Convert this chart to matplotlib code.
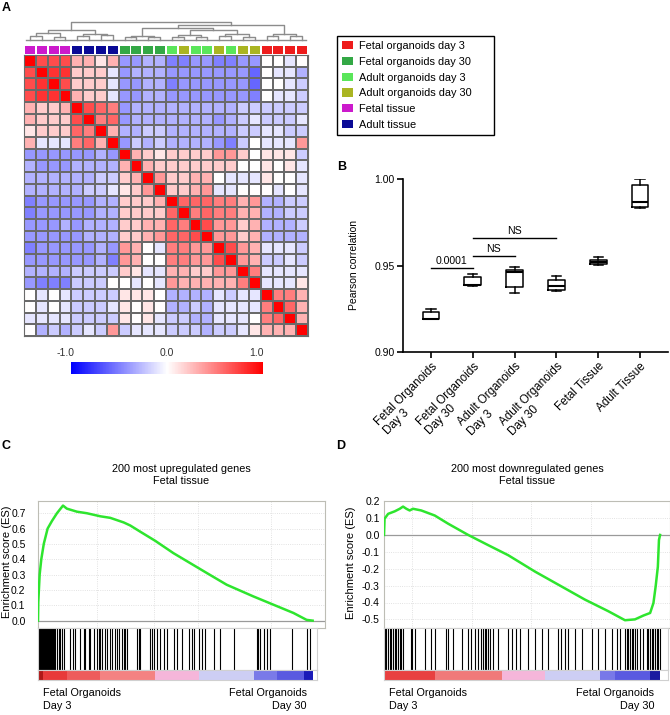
import numpy as np
import matplotlib
matplotlib.use('Agg')
import matplotlib.pyplot as plt
from matplotlib.colors import LinearSegmentedColormap
from matplotlib.patches import Patch, Rectangle

plt.rcParams['font.family'] = ['Liberation Sans', 'DejaVu Sans']

W, H = 670, 715

# ---------------- Panel A: correlation heatmap ----------------
group_keys = ['FO3', 'FO30', 'AO3', 'AO30', 'FT', 'AT']
group_labels = ['Fetal organoids day 3', 'Fetal organoids day 30', 'Adult organoids day 3',
                'Adult organoids day 30', 'Fetal tissue', 'Adult tissue']
group_colors = ['#ee1c1c', '#33a845', '#5ae65a', '#aab522', '#cc1acc', '#0a0a96']

sample_groups = (['FT'] * 4 + ['AT'] * 4 + ['FO30'] * 4 +
                 ['AO3', 'AO30', 'AO3', 'AO3', 'AO30', 'AO3', 'AO30', 'AO30'] +
                 ['FO3'] * 4)

# correlation values x10, rows/cols in displayed (clustered) order
corr_x10 = [
    [10, 7, 7, 7, 3, 3, 1, 3, -4, -4, -3, -3, -5, -5, -4, -4, -5, -5, -4, -4, 0, 0, -1, 0],
    [7, 10, 8, 8, 2, 2, 2, -1, -4, -3, -3, -3, -4, -4, -4, -4, -4, -4, -4, -6, 0, -1, -1, -3],
    [7, 8, 10, 7, 2, 2, 2, -1, -4, -4, -3, -3, -5, -4, -4, -4, -4, -4, -4, -6, 0, 0, -1, -2],
    [7, 8, 8, 10, 3, 2, 2, -1, -4, -4, -3, -3, -4, -4, -4, -4, -4, -4, -4, -5, 0, -1, -1, -2],
    [3, 2, 2, 3, 10, 7, 6, 5, -4, -3, -3, -3, -3, -3, -3, -3, -3, -3, -2, -2, -2, -2, -2, -2],
    [3, 2, 2, 2, 7, 10, 5, 6, -4, -3, -3, -3, -3, -3, -3, -3, -4, -3, -2, -1, -2, -2, -2, -1],
    [1, 2, 2, 2, 6, 5, 10, 3, -3, -3, -2, -2, -3, -3, -3, -3, -3, -3, -2, -2, -1, -1, -2, -2],
    [3, -1, -1, -1, 5, 6, 3, 10, -4, -2, -3, -2, -3, -3, -3, -3, -4, -5, -2, 0, -1, -1, -1, 4],
    [-4, -4, -4, -4, -4, -4, -3, -4, 10, 3, 2, 1, 2, 2, 2, 2, 4, 4, 2, 0, 1, 1, 1, -2],
    [-3, -4, -4, -4, -3, -3, -3, -3, 3, 10, 3, 2, 2, 2, 2, 2, 2, 2, 0, 0, 1, 0, 1, -1],
    [-3, -3, -3, -3, -3, -3, -2, -2, 2, 3, 10, 4, 2, 2, 3, 3, 0, -1, -1, -1, 1, 0, 0, -1],
    [-3, -3, -3, -3, -3, -2, -2, -1, 1, 2, 4, 10, 2, 2, 3, 4, -1, -1, 0, 0, 0, -1, 0, -1],
    [-5, -4, -4, -4, -4, -4, -3, -3, 2, 2, 2, 3, 10, 6, 6, 6, 5, 5, 3, 4, -3, -3, -2, -2],
    [-5, -4, -4, -4, -4, -4, -3, -3, 2, 2, 2, 2, 6, 10, 5, 6, 5, 5, 3, 3, -3, -3, -2, -2],
    [-4, -4, -4, -3, -4, -3, -3, -3, 2, 2, 3, 3, 6, 5, 10, 7, 4, 4, 2, 3, -3, -3, -3, -2],
    [-4, -4, -4, -4, -4, -3, -3, -3, 2, 2, 3, 4, 6, 6, 7, 10, 4, 4, 2, 3, -3, -3, -3, -3],
    [-5, -4, -4, -4, -4, -4, -3, -4, 4, 3, 0, -1, 5, 5, 4, 4, 10, 7, 4, 3, -1, -1, -1, -2],
    [-4, -4, -4, -4, -4, -4, -3, -5, 4, 3, 0, 0, 5, 5, 4, 4, 7, 10, 4, 3, -2, -2, -1, -2],
    [-3, -3, -3, -3, -2, -2, -2, -2, 2, 1, -1, -1, 3, 3, 2, 2, 4, 4, 10, 5, -1, -1, -1, -1],
    [-4, -5, -5, -5, -2, -2, -2, 0, 0, -1, 0, -1, 4, 3, 3, 3, 3, 3, 5, 10, -1, -1, -1, 1],
    [0, -1, 0, -1, -2, -2, -2, -2, 1, 1, 1, 0, -3, -3, -3, -3, -1, -2, -1, -1, 10, 5, 5, 3],
    [0, -1, 0, -1, -2, -2, -2, -1, 1, 0, 1, 0, -3, -3, -2, -3, -1, -1, -1, -1, 5, 10, 6, 3],
    [-1, -1, -1, -1, -2, -2, -2, -2, 1, 0, 1, -1, -2, -2, -3, -3, -1, -1, -1, 0, 5, 6, 10, 3],
    [0, -3, -2, -3, -2, -1, -2, 4, -2, -1, -1, -1, -2, -2, -2, -3, -2, -2, -1, 1, 3, 3, 3, 10],
]

# dendrogram merges: (left node, right node, height); leaves are 0..23, new nodes 24..
merges = [
    (0, 1, 0.20), (2, 3, 0.17), (24, 25, 0.38),
    (4, 5, 0.22), (6, 7, 0.26), (27, 28, 0.36),
    (26, 29, 0.53),
    (8, 9, 0.15), (10, 11, 0.15), (31, 32, 0.25),
    (12, 13, 0.18), (14, 15, 0.15), (34, 35, 0.30),
    (16, 17, 0.20), (18, 19, 0.18), (37, 38, 0.33),
    (36, 39, 0.53),
    (33, 40, 0.68),
    (20, 21, 0.20), (22, 23, 0.25), (42, 43, 0.34),
    (41, 44, 0.81),
    (30, 45, 1.00),
]

# ---------------- Panel B: Pearson correlation box plots ----------------
box_labels = ['Fetal Organoids\nDay 3', 'Fetal Organoids\nDay 30', 'Adult Organoids\nDay 3',
              'Adult Organoids\nDay 30', 'Fetal Tissue', 'Adult Tissue']
box_min = [0.9190, 0.9382, 0.9339, 0.9352, 0.9503, 0.9830]
box_q1 = [0.9191, 0.9385, 0.9378, 0.9360, 0.9510, 0.9838]
box_med = [0.9191, 0.9389, 0.9464, 0.9380, 0.9518, 0.9865]
box_q3 = [0.9231, 0.9434, 0.9476, 0.9418, 0.9530, 0.9967]
box_max = [0.9250, 0.9453, 0.9491, 0.9437, 0.9547, 1.0000]
sig_pairs = [(0, 1), (1, 2), (1, 3)]
sig_heights = [0.9487, 0.9557, 0.9657]
sig_texts = ['0.0001', 'NS', 'NS']

# ---------------- Panels C/D: GSEA ----------------
es_c_x = [0, 0.001, 0.006, 0.012, 0.021, 0.035, 0.051, 0.069, 0.091, 0.105, 0.142, 0.178,
          0.227, 0.263, 0.312, 0.336, 0.372, 0.427, 0.493, 0.554, 0.615, 0.687, 0.784,
          0.857, 0.93, 0.978, 1.0]
es_c_y = [0, 0.12, 0.30, 0.40, 0.50, 0.60, 0.65, 0.70, 0.75, 0.73, 0.71, 0.70, 0.68, 0.67,
          0.64, 0.62, 0.58, 0.52, 0.44, 0.375, 0.31, 0.234, 0.158, 0.104, 0.05, 0.005, 0.0]
hits_c = list(range(0, 64, 3)) + [
    69, 75, 81, 88, 93, 118, 127, 136, 154, 166, 172, 184, 190, 202, 215, 221, 227, 233,
    245, 251, 263, 269, 281, 287, 293, 305, 312, 318, 324, 360, 366, 372, 408, 415, 421,
    433, 445, 457, 469, 493, 505, 524, 548, 560, 566, 584, 596, 608, 639, 663, 712, 796,
    802, 808, 821, 833, 845, 924, 978, 990]
rank_c_bounds = [0, 18, 105, 227, 427, 584, 784, 869, 966, 1000]
rank_c_colors = ['#b01818', '#e83a3a', '#ee5c5c', '#f48282', '#f5b6da', '#cdcef4',
                 '#7a7ae8', '#5a5ae0', '#1a1ab8']
es_c_ticks = [0.0, 0.1, 0.2, 0.3, 0.4, 0.5, 0.6, 0.7]
vgrid_c = [0.215, 0.423, 0.584, 0.847]

es_d_x = [0, 0.002, 0.015, 0.039, 0.057, 0.069, 0.081, 0.093, 0.105, 0.135, 0.184, 0.232,
          0.305, 0.377, 0.45, 0.547, 0.643, 0.728, 0.813, 0.873, 0.909, 0.94, 0.964, 0.976,
          0.984, 0.992, 0.996, 1.0]
es_d_y = [0, 0.096, 0.125, 0.14, 0.155, 0.168, 0.155, 0.145, 0.155, 0.145, 0.115, 0.067,
          0.0, -0.06, -0.12, -0.217, -0.305, -0.383, -0.452, -0.505, -0.50, -0.477, -0.462,
          -0.403, -0.305, -0.188, -0.03, 0.0]
hits_d = [2, 8, 15, 21, 27, 33, 39, 45, 51, 57, 63, 69, 97, 102, 111, 148, 172, 184, 226,
          232, 250, 281, 305, 317, 329, 341, 353, 359, 365, 371, 377, 383, 395, 414, 450,
          462, 480, 492, 522, 547, 571, 595, 631, 643, 655, 667, 692, 716, 752, 776, 800,
          825, 843, 855, 873, 879, 885, 891, 897, 903, 909, 915, 927, 940, 952, 958, 964,
          970, 976, 982, 988, 994, 1000]
rank_d_bounds = [0, 184, 426, 583, 782, 837, 964, 1000]
rank_d_colors = ['#e84040', '#f07a7a', '#f5b6da', '#cdcef4', '#7878e8', '#5a5ae0', '#1a1aa0']
es_d_ticks = [0.2, 0.1, 0.0, -0.1, -0.2, -0.3, -0.4, -0.5]
vgrid_d = [0.10, 0.317, 0.534, 0.75]

fig = plt.figure(figsize=(W / 100, H / 100), dpi=100)


def px_axes(x0, y0, x1, y1):
    return fig.add_axes([x0 / W, 1 - y1 / H, (x1 - x0) / W, (y1 - y0) / H])


# --- heatmap
cmap = LinearSegmentedColormap.from_list('bwr_like', ['#0000ff', '#ffffff', '#ff0000'])
corr = np.array(corr_x10) / 10.0
n = corr.shape[0]
ax = px_axes(24, 55, 308, 336)
mesh = ax.pcolormesh(corr, cmap=cmap, vmin=-1, vmax=1, edgecolors='#6a6a6a', linewidth=1.1)
ax.set_xlim(0, n)
ax.set_ylim(n, 0)
ax.set_xticks([])
ax.set_yticks([])
for s in ax.spines.values():
    s.set_color('#6a6a6a')

# group colour strip
color_of = dict(zip(group_keys, group_colors))
ax_s = px_axes(24, 46, 308, 53.5)
ax_s.bar(np.arange(n) + 0.5, 1, width=0.84, color=[color_of[g] for g in sample_groups])
ax_s.set_xlim(0, n)
ax_s.set_ylim(0, 1)
ax_s.axis('off')

# dendrogram
ax_d = px_axes(24, 22, 308, 40)
node_x = {i: i + 0.5 for i in range(n)}
node_h = {i: 0.0 for i in range(n)}
for k, (a, b, h) in enumerate(merges):
    ax_d.plot([node_x[a], node_x[a], node_x[b], node_x[b]],
              [node_h[a], h, h, node_h[b]], color='#8c8c8c', lw=1.0, clip_on=False)
    node_x[n + k] = (node_x[a] + node_x[b]) / 2
    node_h[n + k] = h
ax_d.axhline(0, xmin=0.008, xmax=0.992, color='#8c8c8c', lw=1.0, clip_on=False)
ax_d.set_xlim(0, n)
ax_d.set_ylim(0, 1)
ax_d.axis('off')

# colour bar
cax = px_axes(71, 362, 263, 374)
cbar = fig.colorbar(mesh, cax=cax, orientation='horizontal')
cbar.outline.set_visible(False)
cax.set_xticks([])
for v, shift in [(-1.0, -0.06), (0.0, 0.0), (1.0, -0.07)]:
    cax.text(v + shift, 1.3, f'{v:.1f}', transform=cax.get_xaxis_transform(),
             ha='center', va='bottom', fontsize=7.5, color='#333333')

# legend with a hand-sized frame
fig.patches.append(Rectangle((337 / W, 1 - 135 / H), 157 / W, 99 / H, transform=fig.transFigure,
                             facecolor='white', edgecolor='black', lw=1.0, zorder=0))
handles = [Patch(facecolor=c, edgecolor='none') for c in group_colors]
leg = fig.legend(handles, group_labels, loc='upper left', bbox_to_anchor=(340 / W, 1 - 39 / H),
                 frameon=False, fontsize=7.9, handlelength=1.0, handleheight=0.75,
                 borderpad=0.2, labelspacing=0.52, handletextpad=0.55, borderaxespad=0)

# --- panel B
axb = px_axes(403, 179, 668, 352)
stats = [dict(whislo=lo, q1=a, med=m, q3=b, whishi=hi, fliers=[])
         for lo, a, m, b, hi in zip(box_min, box_q1, box_med, box_q3, box_max)]
lp = dict(color='black', lw=1.1)
axb.bxp(stats, positions=range(len(stats)), widths=0.4, capwidths=0.22, showfliers=False,
        boxprops=lp, whiskerprops=lp, capprops=lp, medianprops=dict(color='black', lw=1.5))
for (a, b), h, t in zip(sig_pairs, sig_heights, sig_texts):
    axb.plot([a, b], [h, h], color='black', lw=1.0)
    axb.text((a + b) / 2, h + 0.0012, t, ha='center', va='bottom', fontsize=7.6)
axb.set_xlim(-0.67, 5.67)
axb.set_ylim(0.90, 1.00)
axb.set_yticks([0.90, 0.95, 1.00])
axb.set_yticklabels(['0.90', '0.95', '1.00'], fontsize=7.5)
axb.set_xticks(range(len(box_labels)))
axb.set_xticklabels(box_labels, rotation=45, ha='right', va='top', rotation_mode='anchor',
                    multialignment='left', fontsize=8.4)
axb.spines['top'].set_visible(False)
axb.spines['right'].set_visible(False)
for s in ['left', 'bottom']:
    axb.spines[s].set_linewidth(1.2)
axb.tick_params(direction='out', length=4, width=1.2, pad=2)
axb.set_ylabel('Pearson correlation', fontsize=7.5, labelpad=11)


# --- panels C and D
def gsea_panel(xl, xr_es, xr_low, es_x, es_y, ylim, ticks, vgrid, hits, bounds, colors,
               title, xmax_es, xmax_low, tick_pad):
    ax_es = px_axes(xl, 500.5, xr_es, 628)
    ax_es.plot(es_x, es_y, color='#2ee52e', lw=1.8, zorder=3)
    ax_es.axhline(0, color='#9a9a9a', lw=0.9, zorder=2)
    for t in ticks:
        ax_es.axhline(t, color='#d9d9d9', lw=0.6, ls=':', zorder=1)
    for g in vgrid:
        ax_es.axvline(g, color='#d9d9d9', lw=0.6, ls=':', zorder=1)
    ax_es.set_xlim(0, xmax_es)
    ax_es.set_ylim(*ylim)
    ax_es.set_xticks([])
    ax_es.set_yticks(ticks)
    ax_es.set_yticklabels([f'{t:.1f}' for t in ticks], fontsize=7.5)
    ax_es.tick_params(axis='y', length=0, pad=tick_pad)
    for s in ax_es.spines.values():
        s.set_color('#bdbdb5')

    ax_h = px_axes(xl, 628, xr_low, 670)
    ax_h.vlines(np.array(hits) / 1000, 0, 1, color='black', lw=0.8)
    ax_h.set_xlim(0, xmax_low)
    ax_h.set_ylim(0, 1)
    ax_h.set_xticks([])
    ax_h.set_yticks([])
    for s in ax_h.spines.values():
        s.set_color('#d0d0d0')

    ax_r = px_axes(xl, 670, xr_low, 680)
    for lo, hi, c in zip(bounds[:-1], bounds[1:], colors):
        ax_r.axvspan(lo / 1000, hi / 1000, color=c, lw=0)
    ax_r.set_xlim(0, xmax_low)
    ax_r.set_xticks([])
    ax_r.set_yticks([])
    for s in ax_r.spines.values():
        s.set_color('#d0d0d0')

    fig.text((xl + xr_es) / 2 / W, 1 - 475 / H, title, ha='center', va='center',
             fontsize=7.8, linespacing=1.25)
    return ax_es


gsea_panel(38, 325, 317, es_c_x, es_c_y, (-0.048, 0.783), es_c_ticks, vgrid_c, hits_c,
           rank_c_bounds, rank_c_colors, '200 most upregulated genes\nFetal tissue',
           1.045, 1.015, 9)
gsea_panel(384, 670, 668, es_d_x, es_d_y, (-0.551, 0.204), es_d_ticks, vgrid_d, hits_d,
           rank_d_bounds, rank_d_colors, '200 most downregulated genes\nFetal tissue',
           1.036, 1.029, 3)

fig.text(7 / W, 1 - 562 / H, 'Enrichment score (ES)', rotation=90, ha='center', va='center',
         fontsize=8)
fig.text(351 / W, 1 - 563 / H, 'Enrichment score (ES)', rotation=90, ha='center', va='center',
         fontsize=8)
for xl, xr in [(43, 307), (389, 654)]:
    fig.text(xl / W, 1 - 688 / H, 'Fetal Organoids\nDay 3', ha='left', va='top', fontsize=7.8,
             linespacing=1.35)
    fig.text(xr / W, 1 - 688 / H, 'Fetal Organoids\nDay 30', ha='right', va='top',
             multialignment='right', fontsize=7.8, linespacing=1.35)

# panel letters
for letter, x, y in [('A', 2, 8), ('B', 337, 167), ('C', 1, 446), ('D', 336, 446)]:
    fig.text(x / W, 1 - y / H, letter, fontsize=9, fontweight='bold', ha='left', va='center')

fig.savefig('out.png', dpi=100)
